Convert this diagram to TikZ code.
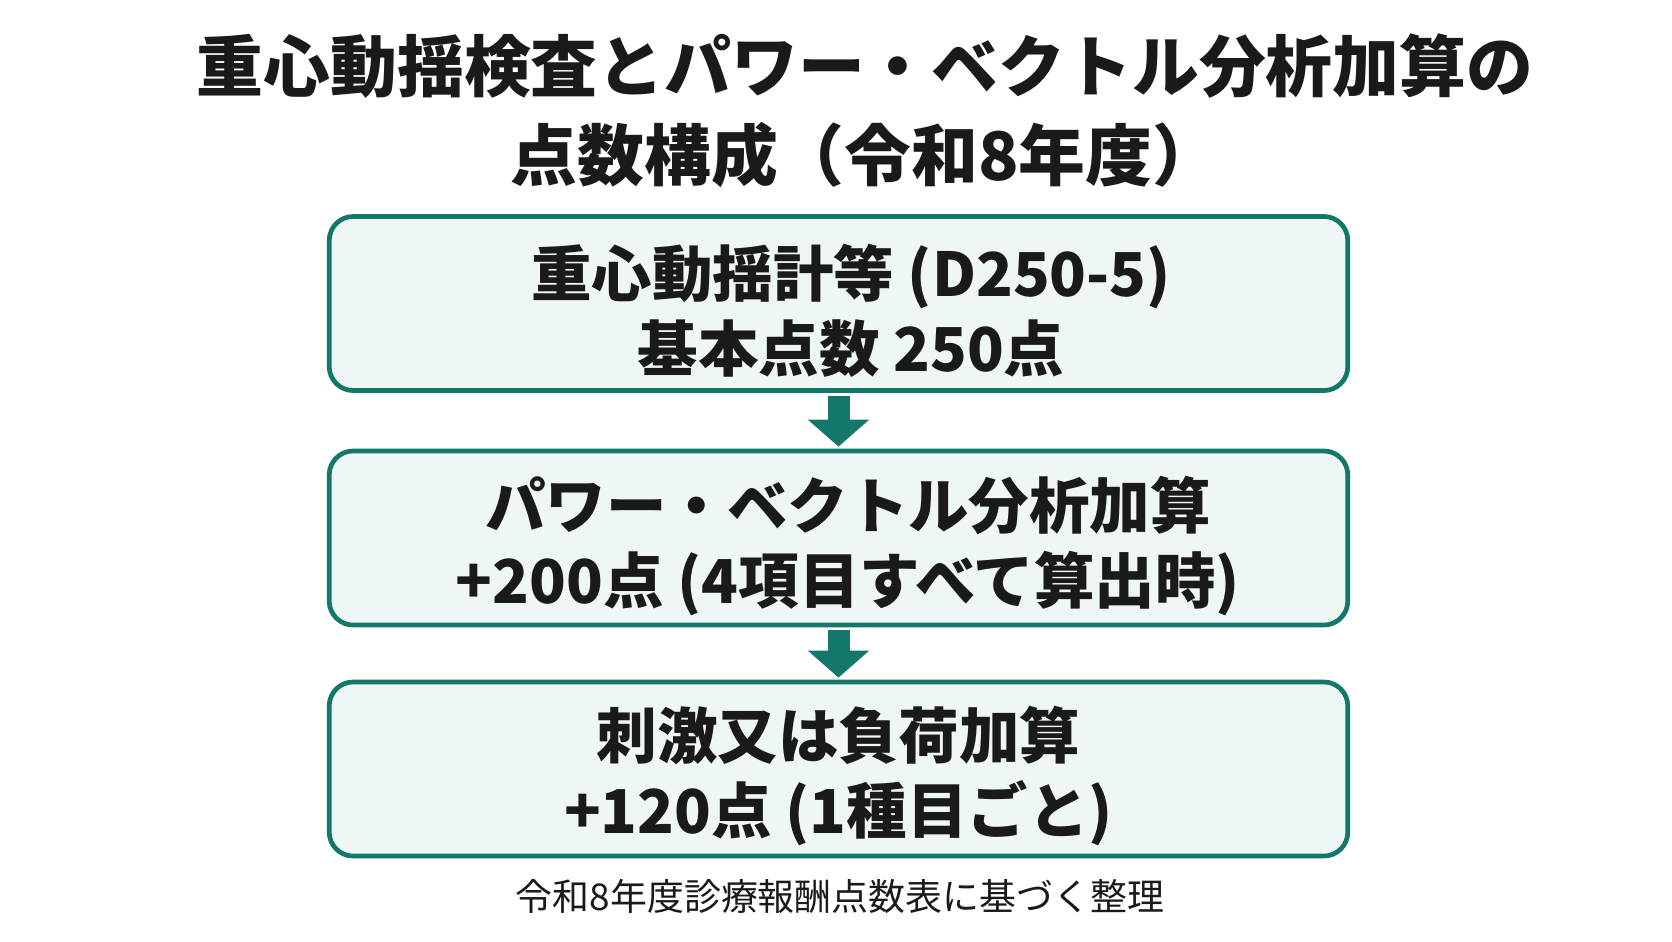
\documentclass[tikz,border=0pt]{standalone}
\usepackage{fontspec}
\setmainfont{Noto Sans CJK JP}
\usetikzlibrary{arrows.meta}
\definecolor{tealline}{HTML}{13786B}
\definecolor{boxfill}{HTML}{EEF6F6}
\definecolor{inkdark}{HTML}{1A1A1A}
\tikzset{
  stepbox/.style={draw=tealline, line width=0.047cm, fill=boxfill, rounded corners=0.24cm,
    minimum width=10.18cm, minimum height=1.74cm},
  boxtext/.style={align=center, text=inkdark, font=\bfseries\fontsize{17.2}{21.2}\selectfont},
  flowarrow/.style={tealline, line width=0.22cm,
    -{Triangle[width=0.60cm,length=0.27cm]}, shorten <=0.03cm, shorten >=0.02cm}
}
\begin{document}
\begin{tikzpicture}[x=0.01cm,y=-0.01cm]
        \useasboundingbox[fill=white] (0,0) rectangle (1672,941);
        \node[text=inkdark, align=center, font=\bfseries\fontsize{19}{25.3}\selectfont] (title) at (865,111)
          {重心動揺検査とパワー・ベクトル分析加算の\\点数構成（令和8年度）};
        % boxes
        \node[stepbox] (base) at (838.5,303.5) {};
        \node[stepbox] (power) at (838.5,538) {};
        \node[stepbox] (load) at (838.5,769) {};
        \node[boxtext] (basetext) at (851,311) {重心動揺計等 (D250-5)\\基本点数 250点};
        \node[boxtext] (powertext) at (848,546) {パワー・ベクトル分析加算\\+200点 (4項目すべて算出時)};
        \node[boxtext] (loadtext) at (838.5,776) {刺激又は負荷加算\\+120点 (1種目ごと)};
        \draw[flowarrow] (base) -- (power);
        \draw[flowarrow] (power) -- (load);
        \node[text=inkdark, font=\fontsize{10.5}{12}\selectfont] (note) at (840,896) {令和8年度診療報酬点数表に基づく整理};
    \end{tikzpicture}
\end{document}
